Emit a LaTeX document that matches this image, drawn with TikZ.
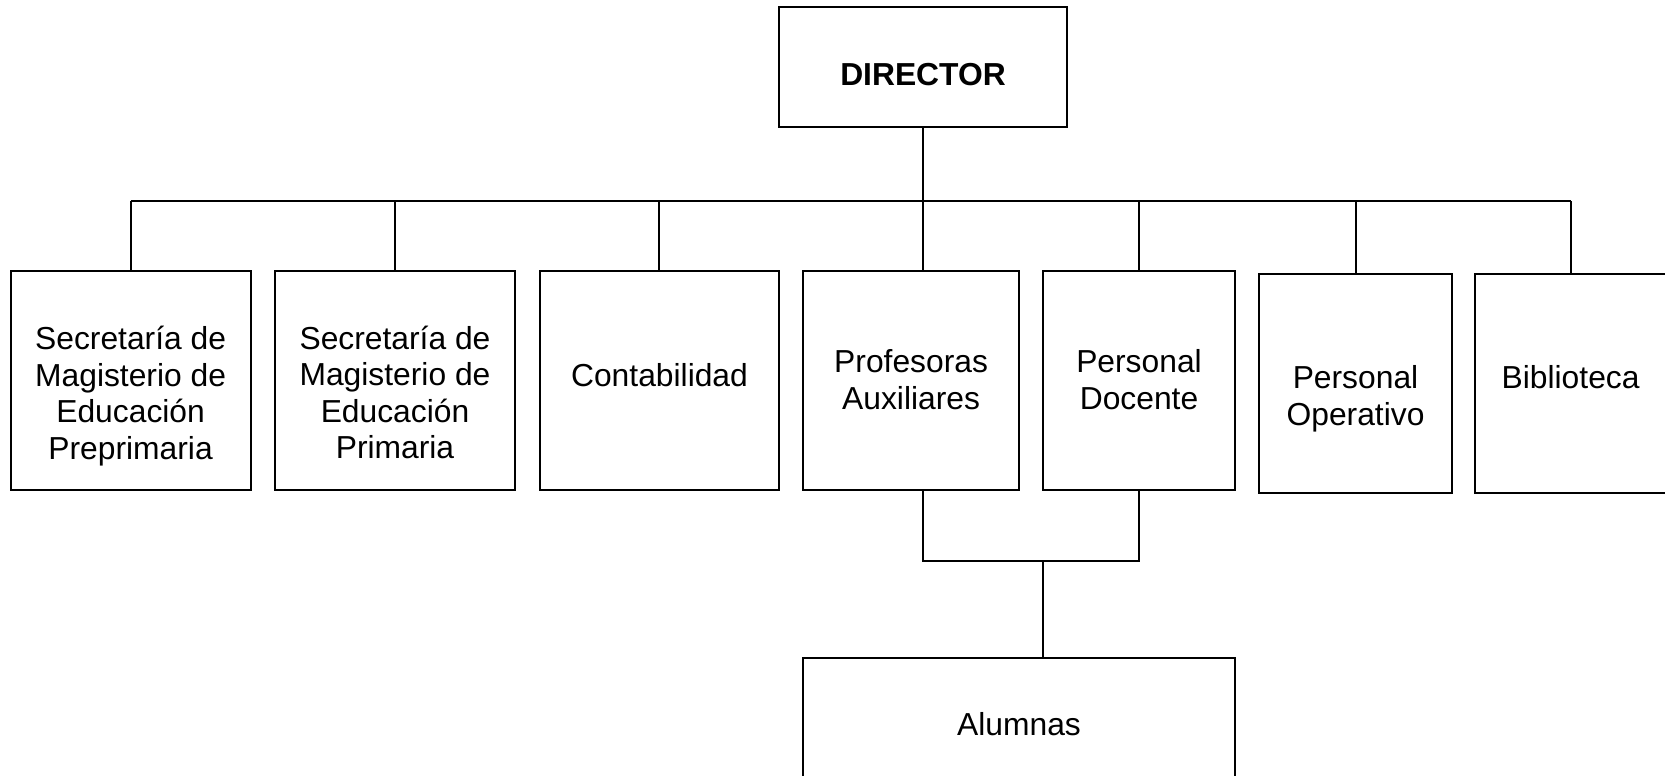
\documentclass[tikz,border=0pt]{standalone}
\usepackage{fontspec}
\setmainfont{Liberation Sans}
\usetikzlibrary{fit}
\begin{document}
\begin{tikzpicture}[x=0.5pt,y=-0.5pt,
  box/.style={draw, line width=1pt, inner sep=0pt},
  lbl/.style={align=center, font=\fontsize{15.9}{18.3}\selectfont, inner sep=0pt},
  conn/.style={line width=1pt}]
\clip (0,0) rectangle (1665,776);
% boxes
\node[box, fit={(779,6.5) (1067,126.5)}] (dir) {};
\node[box, fit={(10.6,270.8) (250.6,489.6)}] (b1) {};
\node[box, fit={(275,270.8) (515,489.6)}] (b2) {};
\node[box, fit={(539.5,270.8) (779.4,489.6)}] (b3) {};
\node[box, fit={(802.8,270.8) (1019.4,489.6)}] (b4) {};
\node[box, fit={(1042.8,270.8) (1235,489.6)}] (b5) {};
\node[box, fit={(1259.4,274) (1451.6,492.7)}] (b6) {};
\node[box, fit={(1475,274) (1666,492.7)}] (b7) {};
\node[box, fit={(802.8,657.5) (1235,800)}] (al) {};
% texts
\node[lbl, font=\fontsize{15.9}{18.3}\selectfont\bfseries] (tdir) at (923,74.3) {DIRECTOR};
\node[lbl] (t1) at (130.6,396) {Secretaría de\\Magisterio de\\Educación\\Preprimaria};
\node[lbl] (t2) at (395,392.5) {Secretaría de\\Magisterio de\\Educación\\Primaria};
\node[lbl] (t3) at (659.5,375) {Contabilidad};
\node[lbl] (t4) at (911.1,379.6) {Profesoras\\Auxiliares};
\node[lbl] (t5) at (1139,379.6) {Personal\\Docente};
\node[lbl] (t6) at (1355.5,399) {Personal\\Operativo};
\node[lbl] (t7) at (1570.6,377) {Biblioteca};
\node[lbl] (tal) at (1019,724) {Alumnas};
% connectors
\coordinate (busL) at (130.6,200.7);
\coordinate (busR) at (1570.6,200.7);
\draw[conn] (busL) -- (busR);
\draw[conn] (dir.south) -- (dir.south |- busL);
\foreach \b in {b1,b2,b3,b5,b6,b7} \draw[conn] (\b.north) -- (\b.north |- busL);
\draw[conn] (dir.south |- b4.north) -- (dir.south |- busL);
\coordinate (j) at (1043,561.3);
\draw[conn] (dir.south |- b4.south) |- (b5.south |- j) -- (b5.south);
\draw[conn] (j) -- (j |- al.north);
\end{tikzpicture}
\end{document}
